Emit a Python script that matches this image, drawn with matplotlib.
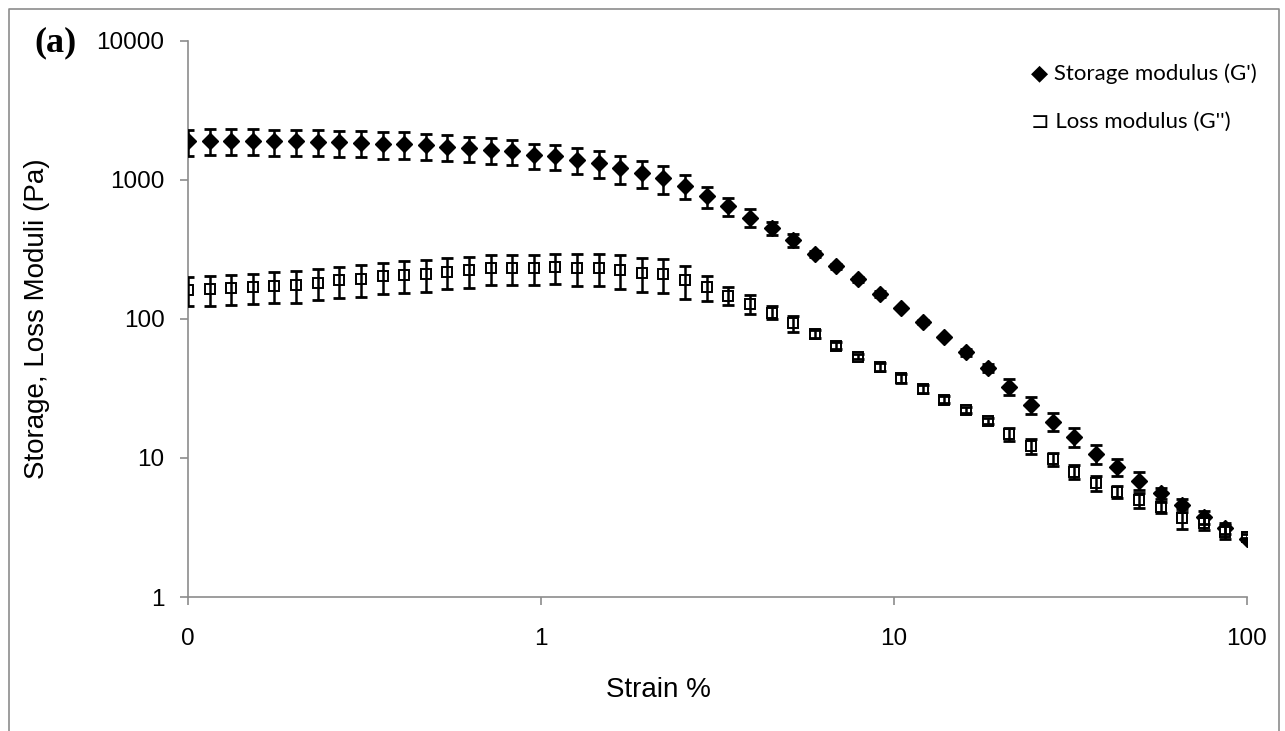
import matplotlib.pyplot as plt
from matplotlib.lines import Line2D

# strain sweep, % (50 points, 0.1 - 100)
strain = [0.1, 0.1151, 0.1326, 0.1526, 0.1758, 0.2024, 0.2330, 0.2683, 0.3089, 0.3557,
          0.4096, 0.4716, 0.5430, 0.6252, 0.7197, 0.8286, 0.9541, 1.0985, 1.265, 1.456,
          1.677, 1.931, 2.223, 2.560, 2.947, 3.393, 3.907, 4.498, 5.180, 5.964,
          6.866, 7.906, 9.103, 10.48, 12.07, 13.89, 16.00, 18.42, 21.21, 24.42,
          28.12, 32.37, 37.28, 42.92, 49.42, 56.90, 65.51, 75.43, 86.85, 100.0]

# storage modulus G' (Pa) and its error
g_storage = [1890, 1900, 1900, 1900, 1890, 1890, 1880, 1860, 1850, 1820,
             1800, 1770, 1730, 1690, 1644, 1600, 1513, 1472, 1393, 1318,
             1213, 1117, 1028, 905, 759, 643, 535, 449, 366, 294,
             238, 193, 151, 119, 95, 74, 57.4, 44.2, 32.6, 24.1,
             18.2, 14.1, 10.7, 8.57, 6.87, 5.57, 4.59, 3.74, 3.12, 2.60]
g_storage_err = [400, 400, 400, 400, 400, 400, 400, 400, 400, 400,
                 400, 380, 360, 350, 340, 330, 310, 300, 290, 280,
                 275, 250, 237, 183, 130, 95, 80, 50, 40, 15,
                 10, 8, 8, 1, 3, 1, 3, 3, 4.2, 3.5,
                 2.7, 2.2, 1.6, 1.2, 1.0, 0.5, 0.5, 0.4, 0.3, 0.05]

# loss modulus G'' (Pa) and its error
g_loss = [162, 164, 166, 169, 173, 176, 182, 189, 193, 202,
          207, 211, 219, 223, 232, 232, 232, 235, 232, 232,
          225, 215, 211, 189, 169, 147, 128, 111, 93, 77.6,
          64.3, 53.6, 44.9, 37.4, 31.2, 26.3, 22.2, 18.5, 14.9, 12.1,
          9.79, 7.97, 6.58, 5.73, 4.99, 4.42, 3.68, 3.39, 2.95, 2.72]
g_loss_err = [38, 40, 40, 42, 44, 45, 46, 48, 50, 52,
              53, 54, 55, 56, 56, 56, 57, 58, 60, 60,
              62, 60, 57, 50, 34, 22, 20, 12, 12, 5,
              4, 2, 3, 3, 2, 1.5, 1, 1, 1.6, 1.5,
              1.0, 0.95, 0.8, 0.6, 0.6, 0.4, 0.6, 0.35, 0.35, 0.1]

x_ticks = [0.1, 1, 10, 100]
x_labels = ["0", "1", "10", "100"]
y_ticks = [1, 10, 100, 1000, 10000]
y_labels = ["1", "10", "100", "1000", "10000"]

AXIS_GREY = "#8c8c8c"
W, H = 1285, 731


def main():
    fig = plt.figure(figsize=(W/100, H/100), dpi=100)
    ax = fig.add_axes([188/W, 1 - 597/H, (1247 - 188)/W, (597 - 40.7)/H])

    ax.plot(strain, g_storage, linestyle="none", marker="D", markersize=8.5,
            color="black", zorder=2)
    ax.errorbar(strain, g_storage, yerr=g_storage_err, fmt="none", ecolor="black",
                elinewidth=1.8, capsize=4.3, capthick=2, zorder=3)

    ax.plot(strain, g_loss, linestyle="none", marker="s", markersize=7.5,
            markerfacecolor="white", markeredgecolor="black", markeredgewidth=1.4, zorder=2)
    ax.errorbar(strain, g_loss, yerr=g_loss_err, fmt="none", ecolor="black",
                elinewidth=1.8, capsize=4.3, capthick=2, zorder=3)

    ax.set_xscale("log")
    ax.set_yscale("log")
    ax.set_xlim(0.1, 100)
    ax.set_ylim(1, 10000)
    ax.set_xticks(x_ticks)
    ax.set_xticklabels(x_labels)
    ax.set_yticks(y_ticks)
    ax.set_yticklabels(y_labels)
    ax.minorticks_off()

    for side in ["top", "right"]:
        ax.spines[side].set_visible(False)
    for side in ["left", "bottom"]:
        ax.spines[side].set_color(AXIS_GREY)
        ax.spines[side].set_linewidth(1.2)
    ax.tick_params(axis="both", direction="out", length=6, width=1.2, color=AXIS_GREY,
                   labelsize=17.5, labelcolor="black")
    ax.tick_params(axis="x", pad=16)
    ax.tick_params(axis="y", pad=11)
    for lab in ax.get_xticklabels() + ax.get_yticklabels():
        lab.set_family("Liberation Sans")

    ax.set_xlabel("Strain %", fontsize=20, family="Liberation Sans", va="center")
    ax.xaxis.set_label_coords((658 - 188)/1059, -(690 - 597)/556.3)
    ax.set_ylabel("Storage, Loss Moduli (Pa)", fontsize=20, family="Liberation Sans",
                  va="center")
    ax.yaxis.set_label_coords((37 - 188)/1059, 0.5)

    fig.text(55/W, 1 - 43/H, "(a)", fontsize=26, fontweight="bold",
             family="Liberation Serif", ha="center", va="center")

    fig.text(1031/W, 1 - 74/H, "\u25C6 Storage modulus (G')", fontsize=16,
             family=["Lato", "DejaVu Sans"], ha="left", va="center")
    fig.text(1031/W, 1 - 122/H, "\u2290 Loss modulus (G'')", fontsize=16,
             family=["Lato", "DejaVu Sans"], ha="left", va="center")

    # outer frame of the picture
    frame_x = [9/W, 9/W, 1279/W, 1279/W]
    frame_y = [0, 1 - 9/H, 1 - 9/H, 0]
    fig.add_artist(Line2D(frame_x, frame_y, transform=fig.transFigure,
                          color=AXIS_GREY, linewidth=1.2))

    fig.savefig("out.png", dpi=100)


if __name__ == "__main__":
    main()
